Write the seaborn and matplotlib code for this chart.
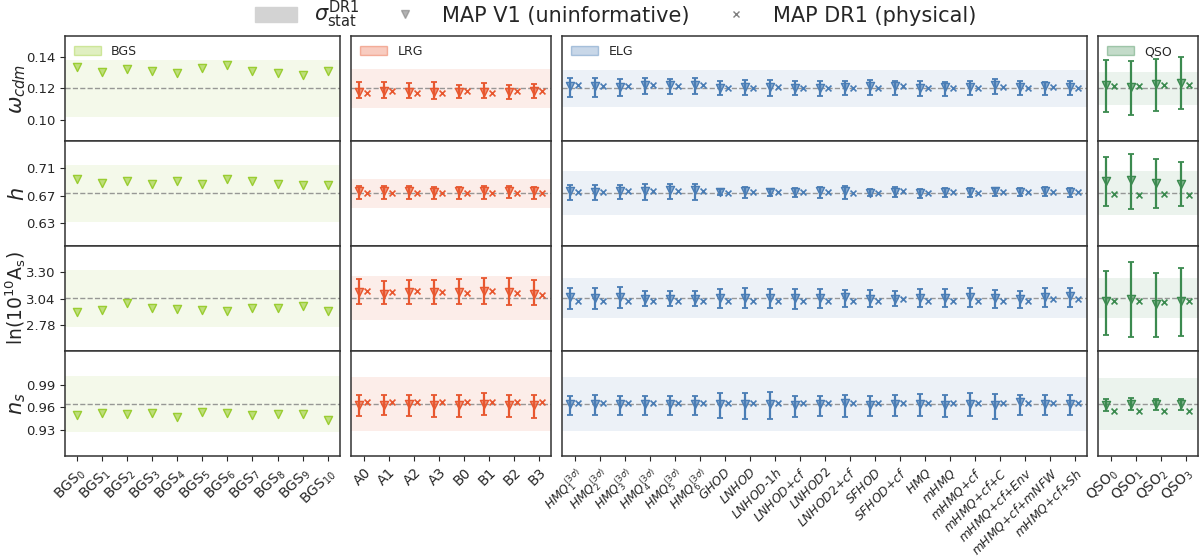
import matplotlib.pyplot as plt
import seaborn as sns
import numpy as np
from matplotlib.patches import Patch
from matplotlib.lines import Line2D
from matplotlib.colors import to_rgba

# ---- fiducial values and sigma_stat bands ----
PARAM_LABELS = [r'$\omega_{cdm}$', r'$h$', r'$\mathrm{ln}(10^{10}\mathrm{A_s})$', r'$n_s$']
LABEL_SIZES = [15, 15, 13.5, 15]
FIDUCIAL = [0.12, 0.6736, 3.044, 0.9649]
YLIMS = [(0.0865, 0.153), (0.597, 0.749), (2.523, 3.557), (0.8949, 1.0358)]
YTICKS = [[0.10, 0.12, 0.14], [0.63, 0.67, 0.71], [2.78, 3.04, 3.30], [0.93, 0.96, 0.99]]

BGS_SIGMA = [0.018, 0.041, 0.28, 0.0378]
LRG_SIGMA = [0.0123, 0.0208, 0.22, 0.0365]
ELG_SIGMA = [0.0116, 0.032, 0.20, 0.0365]
QSO_SIGMA = [0.0105, 0.032, 0.20, 0.035]

# ---- BGS (V1 only, no error bars) ----
BGS_LABELS = [f'BGS$_{{{i}}}$' for i in range(11)]
BGS_WCDM = [0.1335, 0.1304, 0.1325, 0.1310, 0.1299, 0.1331, 0.1350, 0.1308, 0.1297, 0.1287, 0.1310]
BGS_H = [0.6938, 0.6889, 0.6913, 0.6875, 0.6908, 0.6875, 0.6947, 0.6918, 0.6875, 0.6850, 0.6855]
BGS_LNAS = [2.908, 2.931, 2.994, 2.948, 2.938, 2.928, 2.918, 2.948, 2.951, 2.964, 2.921]
BGS_NS = [0.9502, 0.9520, 0.9516, 0.9524, 0.9467, 0.9538, 0.9524, 0.9498, 0.9516, 0.9507, 0.9427]

# ---- LRG ----
LRG_LABELS = ['A0', 'A1', 'A2', 'A3', 'B0', 'B1', 'B2', 'B3']
LRG_WCDM = [0.1177, 0.1181, 0.1177, 0.1177, 0.1177, 0.1177, 0.1177, 0.1181]
LRG_WCDM_LO = [0.1139, 0.1139, 0.1139, 0.1135, 0.1141, 0.1139, 0.1135, 0.1139]
LRG_WCDM_HI = [0.1240, 0.1240, 0.1233, 0.1240, 0.1224, 0.1233, 0.1220, 0.1229]
LRG_WCDM_DR1 = [0.1172, 0.1181, 0.1172, 0.1172, 0.1181, 0.1172, 0.1181, 0.1185]
LRG_H = [0.6763, 0.6763, 0.6768, 0.6758, 0.6763, 0.6763, 0.6768, 0.6763]
LRG_H_LO = [0.6656, 0.6651, 0.6656, 0.6651, 0.6656, 0.6656, 0.6661, 0.6656]
LRG_H_HI = [0.6841, 0.6841, 0.6841, 0.6826, 0.6826, 0.6841, 0.6841, 0.6826]
LRG_H_DR1 = [0.6744, 0.6744, 0.6741, 0.6744, 0.6744, 0.6741, 0.6744, 0.6744]
LRG_LNAS = [3.103, 3.086, 3.109, 3.103, 3.103, 3.119, 3.109, 3.086]
LRG_LNAS_LO = [2.984, 2.984, 2.990, 2.990, 2.990, 2.984, 2.974, 2.974]
LRG_LNAS_HI = [3.234, 3.211, 3.224, 3.221, 3.234, 3.241, 3.247, 3.221]
LRG_LNAS_DR1 = [3.119, 3.103, 3.112, 3.109, 3.096, 3.119, 3.096, 3.076]
LRG_NS = [0.9636, 0.9636, 0.9649, 0.9627, 0.9627, 0.9649, 0.9627, 0.9627]
LRG_NS_LO = [0.9480, 0.9493, 0.9480, 0.9471, 0.9467, 0.9493, 0.9471, 0.9458]
LRG_NS_HI = [0.9773, 0.9773, 0.9773, 0.9764, 0.9773, 0.9791, 0.9773, 0.9773]
LRG_NS_DR1 = [0.9671, 0.9669, 0.9671, 0.9671, 0.9673, 0.9671, 0.9669, 0.9671]

# ---- ELG ----
ELG_LABELS = [r'$HMQ^{(3\sigma)}_{1}$', r'$HMQ^{(3\sigma)}_{2}$', r'$HMQ^{(3\sigma)}_{3}$',
              r'$HMQ^{(3\sigma)}_{4}$', r'$HMQ^{(3\sigma)}_{5}$', r'$HMQ^{(3\sigma)}_{6}$',
              r'$GHOD$', r'$LNHOD$', r'$LNHOD$-$1h$', r'$LNHOD$+$cf$', r'$LNHOD2$',
              r'$LNHOD2$+$cf$', r'$SFHOD$', r'$SFHOD$+$cf$', r'$HMQ$', r'$mHMQ$',
              r'$mHMQ$+$cf$', r'$mHMQ$+$cf$+$C$', r'$mHMQ$+$cf$+$Env$',
              r'$mHMQ$+$cf$+$mNFW$', r'$mHMQ$+$cf$+$Sh$']
ELG_WCDM = [0.1215, 0.1215, 0.1208, 0.1219, 0.1219, 0.1219, 0.1202, 0.1208, 0.1208, 0.1202, 0.1202,
            0.1208, 0.1215, 0.1215, 0.1202, 0.1208, 0.1208, 0.1219, 0.1208, 0.1215, 0.1208]
ELG_WCDM_LO = [0.1145, 0.1145, 0.1149, 0.1166, 0.1166, 0.1166, 0.1155, 0.1155, 0.1149, 0.1155, 0.1149,
               0.1155, 0.1155, 0.1160, 0.1149, 0.1149, 0.1155, 0.1162, 0.1155, 0.1155, 0.1155]
ELG_WCDM_HI = [0.1268, 0.1266, 0.1261, 0.1266, 0.1261, 0.1266, 0.1247, 0.1255, 0.1255, 0.1247, 0.1245,
               0.1249, 0.1251, 0.1247, 0.1247, 0.1240, 0.1247, 0.1261, 0.1247, 0.1240, 0.1247]
ELG_WCDM_DR1 = [0.1219, 0.1215, 0.1215, 0.1219, 0.1215, 0.1219, 0.1204, 0.1204, 0.1208, 0.1204, 0.1204,
                0.1204, 0.1204, 0.1215, 0.1204, 0.1204, 0.1204, 0.1208, 0.1204, 0.1208, 0.1204]
ELG_H = [0.6763, 0.6753, 0.6763, 0.6763, 0.6778, 0.6778, 0.6753, 0.6768, 0.6753, 0.6753, 0.6768,
         0.6763, 0.6744, 0.6753, 0.6744, 0.6753, 0.6753, 0.6763, 0.6753, 0.6768, 0.6753]
ELG_H_LO = [0.6642, 0.6642, 0.6656, 0.6642, 0.6656, 0.6642, 0.6705, 0.6671, 0.6695, 0.6681, 0.6671,
            0.6656, 0.6695, 0.6681, 0.6671, 0.6681, 0.6681, 0.6690, 0.6690, 0.6690, 0.6681]
ELG_H_HI = [0.6850, 0.6850, 0.6860, 0.6875, 0.6875, 0.6875, 0.6792, 0.6826, 0.6802, 0.6816, 0.6826,
            0.6841, 0.6802, 0.6826, 0.6802, 0.6812, 0.6816, 0.6816, 0.6816, 0.6826, 0.6816]
ELG_H_DR1 = [0.6753, 0.6753, 0.6763, 0.6763, 0.6768, 0.6768, 0.6744, 0.6753, 0.6753, 0.6753, 0.6753,
             0.6744, 0.6744, 0.6763, 0.6744, 0.6753, 0.6744, 0.6753, 0.6753, 0.6753, 0.6753]
ELG_LNAS = [3.053, 3.043, 3.053, 3.037, 3.037, 3.037, 3.047, 3.047, 3.047, 3.047, 3.047,
            3.053, 3.037, 3.037, 3.047, 3.047, 3.053, 3.047, 3.037, 3.053, 3.063]
ELG_LNAS_LO = [2.938, 2.938, 2.945, 2.964, 2.964, 2.964, 2.948, 2.948, 2.948, 2.938, 2.948,
               2.961, 2.961, 2.964, 2.954, 2.954, 2.954, 2.948, 2.945, 2.954, 2.961]
ELG_LNAS_HI = [3.145, 3.145, 3.152, 3.112, 3.112, 3.112, 3.135, 3.145, 3.135, 3.135, 3.135,
               3.126, 3.129, 3.119, 3.135, 3.135, 3.145, 3.129, 3.119, 3.145, 3.145]
ELG_LNAS_DR1 = [3.014, 3.014, 3.014, 3.014, 3.014, 3.014, 3.020, 3.014, 3.014, 3.014, 3.014,
                3.014, 3.014, 3.037, 3.014, 3.020, 3.020, 3.020, 3.014, 3.037, 3.037]
ELG_NS = [0.9649, 0.9649, 0.9649, 0.9649, 0.9649, 0.9649, 0.9649, 0.9649, 0.9649, 0.9636, 0.9649,
          0.9658, 0.9636, 0.9649, 0.9649, 0.9627, 0.9649, 0.9627, 0.9671, 0.9649, 0.9649]
ELG_NS_LO = [0.9502, 0.9502, 0.9502, 0.9502, 0.9502, 0.9502, 0.9458, 0.9449, 0.9440, 0.9467, 0.9480,
             0.9471, 0.9480, 0.9480, 0.9480, 0.9471, 0.9480, 0.9449, 0.9493, 0.9493, 0.9493]
ELG_NS_HI = [0.9747, 0.9773, 0.9760, 0.9747, 0.9747, 0.9747, 0.9795, 0.9791, 0.9804, 0.9760, 0.9760,
             0.9773, 0.9760, 0.9773, 0.9782, 0.9773, 0.9791, 0.9782, 0.9769, 0.9773, 0.9773]
ELG_NS_DR1 = [0.9658] * 21

# ---- QSO ----
QSO_LABELS = [f'QSO$_{{{i}}}$' for i in range(4)]
QSO_WCDM = [0.1219, 0.1208, 0.1225, 0.1236]
QSO_WCDM_LO = [0.1050, 0.1028, 0.1056, 0.1066]
QSO_WCDM_HI = [0.1378, 0.1374, 0.1384, 0.1399]
QSO_WCDM_DR1 = [0.1215, 0.1215, 0.1219, 0.1219]
QSO_H = [0.6913, 0.6933, 0.6884, 0.6875]
QSO_H_LO = [0.6550, 0.6511, 0.6525, 0.6554]
QSO_H_HI = [0.7263, 0.7311, 0.7238, 0.7185]
QSO_H_DR1 = [0.6719, 0.6705, 0.6729, 0.6705]
QSO_LNAS = [3.014, 3.037, 2.987, 3.014]
QSO_LNAS_LO = [2.685, 2.665, 2.665, 2.675]
QSO_LNAS_HI = [3.316, 3.399, 3.290, 3.339]
QSO_LNAS_DR1 = [3.014, 3.014, 3.004, 3.014]
QSO_NS = [0.9636, 0.9649, 0.9640, 0.9640]
QSO_NS_LO = [0.9551, 0.9560, 0.9560, 0.9560]
QSO_NS_HI = [0.9707, 0.9724, 0.9715, 0.9715]
QSO_NS_DR1 = [0.9551, 0.9551, 0.9551, 0.9551]

TRACERS = [
    dict(name='BGS', color='#9acd32', labels=BGS_LABELS, sigma=BGS_SIGMA, tick_size=10,
         v1=[BGS_WCDM, BGS_H, BGS_LNAS, BGS_NS], lo=None, hi=None, dr1=None),
    dict(name='LRG', color='#e8572f', labels=LRG_LABELS, sigma=LRG_SIGMA, tick_size=10,
         v1=[LRG_WCDM, LRG_H, LRG_LNAS, LRG_NS],
         lo=[LRG_WCDM_LO, LRG_H_LO, LRG_LNAS_LO, LRG_NS_LO],
         hi=[LRG_WCDM_HI, LRG_H_HI, LRG_LNAS_HI, LRG_NS_HI],
         dr1=[LRG_WCDM_DR1, LRG_H_DR1, LRG_LNAS_DR1, LRG_NS_DR1]),
    dict(name='ELG', color='#4a7db5', labels=ELG_LABELS, sigma=ELG_SIGMA, tick_size=8.8,
         v1=[ELG_WCDM, ELG_H, ELG_LNAS, ELG_NS],
         lo=[ELG_WCDM_LO, ELG_H_LO, ELG_LNAS_LO, ELG_NS_LO],
         hi=[ELG_WCDM_HI, ELG_H_HI, ELG_LNAS_HI, ELG_NS_HI],
         dr1=[ELG_WCDM_DR1, ELG_H_DR1, ELG_LNAS_DR1, ELG_NS_DR1]),
    dict(name='QSO', color='#3b8a4f', labels=QSO_LABELS, sigma=QSO_SIGMA, tick_size=10,
         v1=[QSO_WCDM, QSO_H, QSO_LNAS, QSO_NS],
         lo=[QSO_WCDM_LO, QSO_H_LO, QSO_LNAS_LO, QSO_NS_LO],
         hi=[QSO_WCDM_HI, QSO_H_HI, QSO_LNAS_HI, QSO_NS_HI],
         dr1=[QSO_WCDM_DR1, QSO_H_DR1, QSO_LNAS_DR1, QSO_NS_DR1]),
]

sns.set_style('ticks')
plt.rcParams['font.family'] = ['DejaVu Sans']
plt.rcParams['axes.edgecolor'] = '#333333'

fig = plt.figure(figsize=(12.03, 5.58), dpi=100)
gs = fig.add_gridspec(4, 4, width_ratios=[len(t['labels']) for t in TRACERS],
                      hspace=0, wspace=0.04, left=0.054, right=0.996,
                      top=0.935, bottom=0.183)

for col, tr in enumerate(TRACERS):
    n = len(tr['labels'])
    x = np.arange(n)
    c = tr['color']
    has_dr1 = tr['dr1'] is not None
    for row in range(4):
        ax = fig.add_subplot(gs[row, col])
        fid = FIDUCIAL[row]
        sig = tr['sigma'][row]
        ax.axhspan(fid - sig, fid + sig, color=c, alpha=0.1, lw=0, zorder=0)
        ax.axhline(fid, color='gray', ls='--', lw=1, alpha=0.8, zorder=1)

        v1 = np.array(tr['v1'][row])
        xv1 = x - 0.17 if has_dr1 else x
        if has_dr1:
            lo = np.array(tr['lo'][row])
            hi = np.array(tr['hi'][row])
            ax.errorbar(xv1, v1, yerr=[v1 - lo, hi - v1], fmt='none', ecolor=c,
                        elinewidth=1.6, capsize=2.5, capthick=1.3, zorder=2)
        sns.scatterplot(x=xv1, y=v1, marker='v', s=34, color=c,
                        facecolor=to_rgba(c, 0.6), edgecolor=c, linewidth=1,
                        ax=ax, zorder=3, legend=False)
        if has_dr1:
            sns.scatterplot(x=x + 0.15, y=tr['dr1'][row], marker='x', s=18,
                            color=c, linewidth=1.2, ax=ax, zorder=3, legend=False)

        ax.set_xlim(-0.5, n - 0.5)
        ax.set_ylim(*YLIMS[row])
        ax.set_xticks(x)
        if row == 3:
            ax.set_xticklabels(tr['labels'], rotation=45, ha='right',
                               rotation_mode='anchor', fontsize=tr['tick_size'])
        else:
            ax.set_xticklabels([])
            ax.tick_params(axis='x', length=0)
        if col == 0:
            ax.set_yticks(YTICKS[row])
            ax.set_yticklabels([f'{v:.2f}' for v in YTICKS[row]], fontsize=9.5)
            ax.set_ylabel(PARAM_LABELS[row], fontsize=LABEL_SIZES[row])
            ax.yaxis.set_label_coords(-0.135, 0.5)
        else:
            ax.set_yticks([])
        for side in ['top', 'right', 'bottom', 'left']:
            ax.spines[side].set_visible(True)
            ax.spines[side].set_linewidth(1.1)
        if row == 0:
            ax.legend(handles=[Patch(facecolor=to_rgba(c, 0.3), edgecolor=to_rgba(c, 0.4))],
                      labels=[tr['name']], loc='upper left', frameon=False,
                      fontsize=9, handlelength=2.2, borderaxespad=0.3)

fig.legend(handles=[Patch(facecolor='lightgray', edgecolor='lightgray'),
                    Line2D([], [], ls='none', marker='v', color='gray', markersize=6,
                           markerfacecolor=to_rgba('gray', 0.6)),
                    Line2D([], [], ls='none', marker='x', color='gray', markersize=4.5)],
           labels=[r'$\sigma_{\rm stat}^{\rm DR1}$', 'MAP V1 (uninformative)', 'MAP DR1 (physical)'],
           loc='upper center', bbox_to_anchor=(0.512, 1.035), ncol=3, frameon=False,
           fontsize=15, columnspacing=1.2)

fig.savefig('out.png', dpi=100)
